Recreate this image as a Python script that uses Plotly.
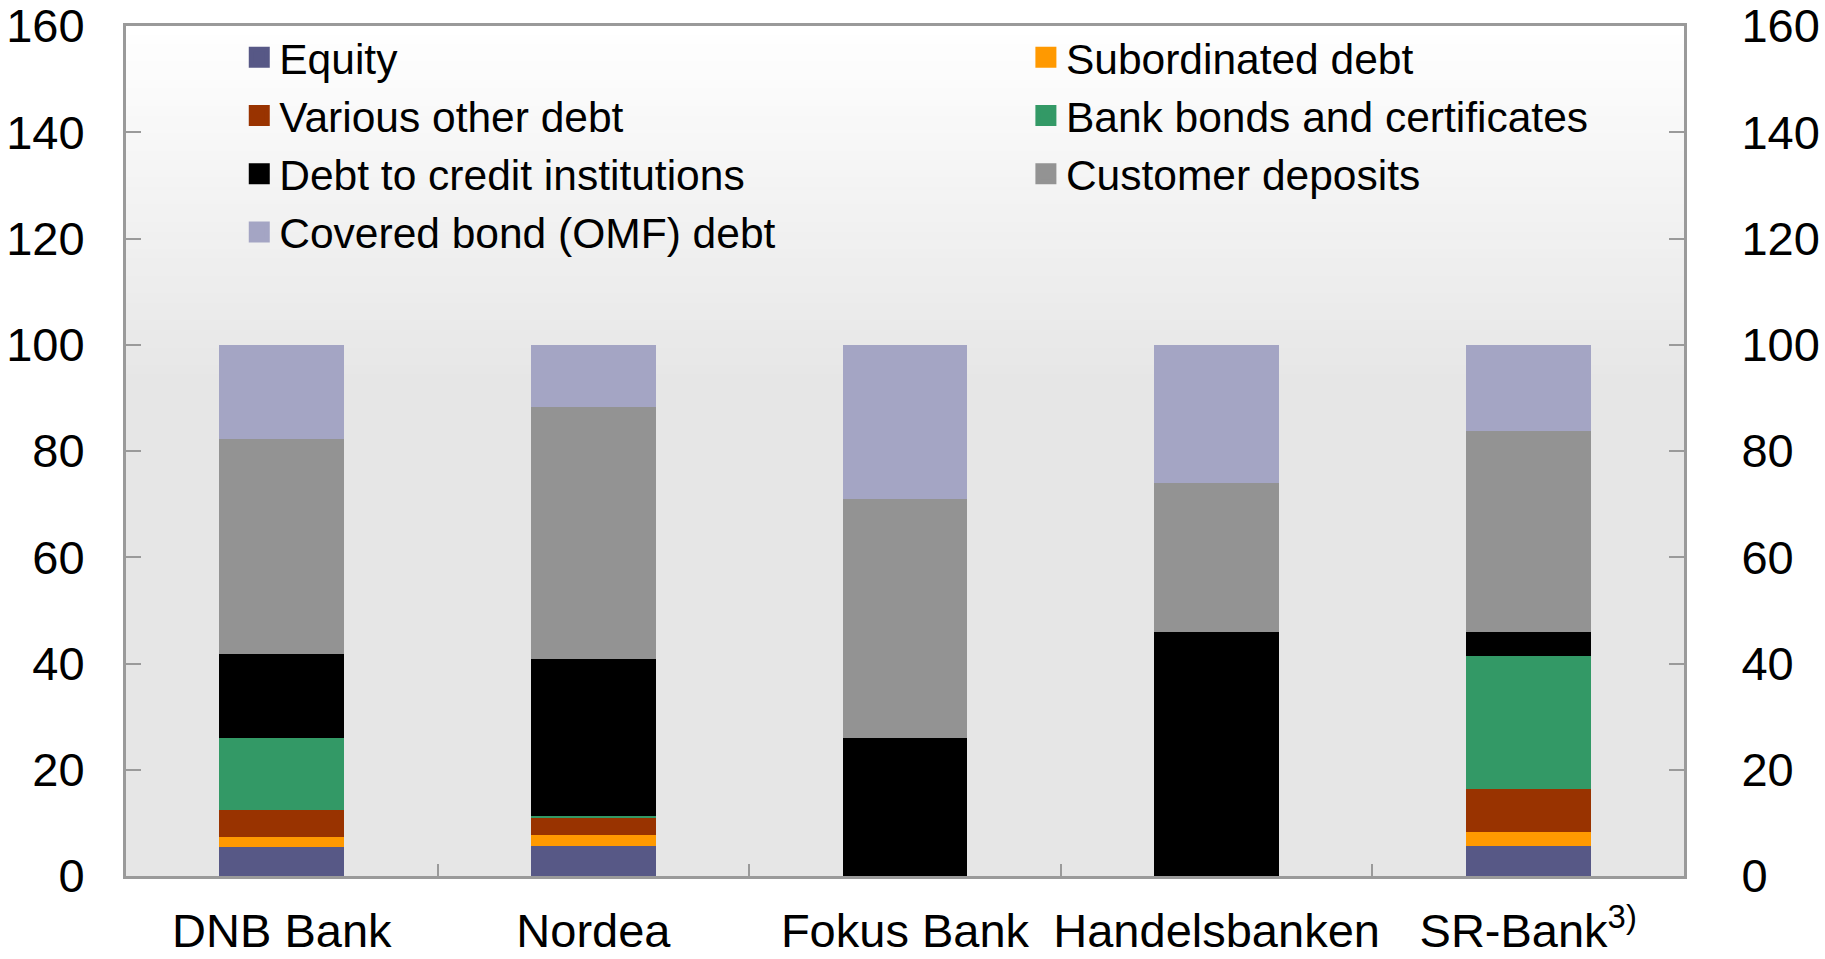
import plotly.graph_objects as go

banks = ["DNB Bank", "Nordea", "Fokus Bank", "Handelsbanken", "SR-Bank<sup>3)</sup>"]

equity = [5.5, 5.7, 0, 0, 5.6]
subordinated = [1.9, 2.0, 0, 0, 2.6]
various_other = [5.0, 3.2, 0, 0, 8.1]
bank_bonds = [13.5, 0.4, 0, 0, 25.1]
debt_credit = [15.8, 29.6, 25.9, 46.0, 4.6]
customer_deposits = [40.6, 47.3, 45.0, 27.9, 37.8]
covered_bond = [17.7, 11.8, 29.1, 26.1, 16.2]

y_ticks = [0, 20, 40, 60, 80, 100, 120, 140, 160]

series = [
    ("Equity", equity, "#575886", "legend"),
    ("Subordinated debt", subordinated, "#ff9900", "legend2"),
    ("Various other debt", various_other, "#993300", "legend"),
    ("Bank bonds and certificates", bank_bonds, "#339966", "legend2"),
    ("Debt to credit institutions", debt_credit, "#000000", "legend"),
    ("Customer deposits", customer_deposits, "#939393", "legend2"),
    ("Covered bond (OMF) debt", covered_bond, "#a4a5c4", "legend"),
]

fig = go.Figure()
for name, vals, col, leg in series:
    fig.add_trace(go.Bar(
        x=banks, y=vals, name=name, marker=dict(color=col, line=dict(width=0)),
        showlegend=False, hoverinfo="name+y",
    ))
# legend entries (square markers)
for name, vals, col, leg in series:
    fig.add_trace(go.Scatter(
        x=[None], y=[None], mode="markers", name=name,
        marker=dict(symbol="square", size=16, color=col,
                    line=dict(color=col, width=5)),
        legend=leg, showlegend=True,
    ))
# invisible trace for right axis
fig.add_trace(go.Scatter(x=[banks[0]], y=[0], yaxis="y2", mode="markers",
                         marker=dict(opacity=0), showlegend=False, hoverinfo="skip"))

# background gradient shapes
shapes = []
n = 40
top_frac = 0.42
c0 = (255, 255, 255)
c1 = (230, 230, 230)
for i in range(n):
    t = (i + 0.5) / n
    col = tuple(int(round(c0[k] + (c1[k] - c0[k]) * t)) for k in range(3))
    y1 = 1 - top_frac * i / n
    y0 = 1 - top_frac * (i + 1) / n
    shapes.append(dict(type="rect", xref="paper", yref="paper", x0=0, x1=1,
                       y0=y0 - 0.001, y1=y1, fillcolor="rgb(%d,%d,%d)" % col,
                       line=dict(width=0), layer="below"))

axis_col = "#9a9a9a"
font = "Liberation Sans, Arial, sans-serif"

fig.update_layout(
    width=1825, height=959,
    barmode="stack", bargap=0.6,
    paper_bgcolor="white", plot_bgcolor="#e6e6e6",
    margin=dict(l=126, r=141, t=26, b=83),
    font=dict(family=font, size=47, color="black"),
    shapes=shapes,
    xaxis=dict(
        type="category", tickson="boundaries", ticks="inside", ticklen=12,
        tickcolor=axis_col, tickwidth=2, showline=True, linecolor=axis_col,
        linewidth=3, mirror=True, showgrid=False, ticklabelstandoff=12,
        tickfont=dict(size=47), tickangle=0, automargin=False,
        ticklabeloverflow="allow",
    ),
    yaxis=dict(
        range=[0, 160], tickvals=y_ticks, ticks="inside", ticklen=15,
        tickcolor=axis_col, tickwidth=2, showline=True, linecolor=axis_col,
        linewidth=3, mirror=True, showgrid=False, zeroline=False,
        ticklabelstandoff=29, tickfont=dict(size=47), automargin=False,
        ticklabeloverflow="allow",
    ),
    yaxis2=dict(
        range=[0, 160], tickvals=y_ticks, overlaying="y", side="right",
        ticks="inside", ticklen=15, tickcolor=axis_col, tickwidth=2,
        showline=True, linecolor=axis_col, linewidth=3, showgrid=False,
        zeroline=False, ticklabelstandoff=45, tickfont=dict(size=47),
        automargin=False, ticklabeloverflow="allow",
    ),
    legend=dict(x=0.0727, y=1.0035, xanchor="left", yanchor="top",
                bgcolor="rgba(0,0,0,0)", font=dict(size=42.5, family=font),
                orientation="v", tracegroupgap=0, traceorder="normal",
                itemclick=False),
    legend2=dict(x=0.5776, y=1.0035, xanchor="left", yanchor="top",
                 bgcolor="rgba(0,0,0,0)", font=dict(size=42.5, family=font),
                 orientation="v", tracegroupgap=0, traceorder="normal",
                 itemclick=False),
)

fig.write_html("out.html", config={"displayModeBar": False},
               post_script="document.body.style.margin='0px';")
